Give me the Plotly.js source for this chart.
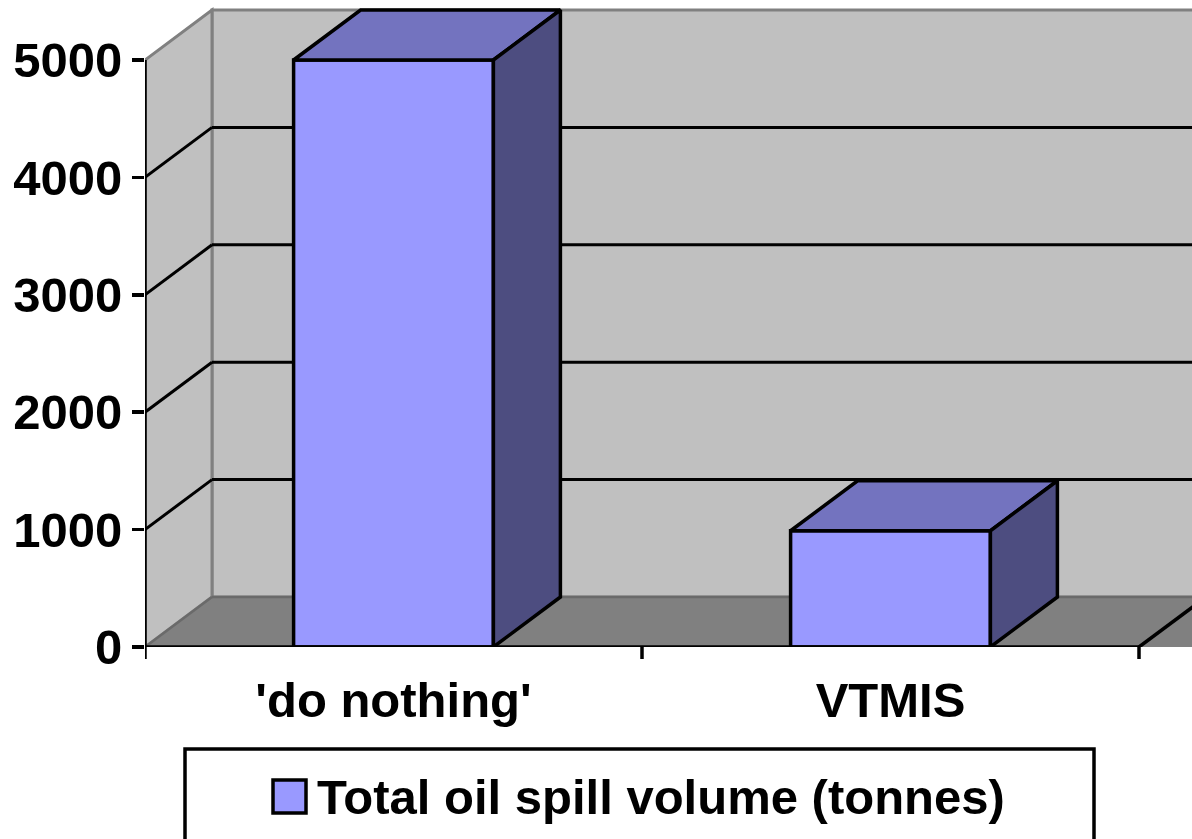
<!DOCTYPE html>
<html>
<head>
<meta charset="utf-8">
<script src="https://cdn.plot.ly/plotly-3.0.1.min.js"></script>
<style>
html,body{margin:0;padding:0;background:#fff;}
#chart{width:1192px;height:839px;}
</style>
</head>
<body>
<div id="chart"></div>
<script>
// ---- data ----
const categories = ["'do nothing'", "VTMIS"];
const spillVolume = [5000, 990];
const seriesName = "Total oil spill volume (tonnes)";
const yTickVals = [0, 1000, 2000, 3000, 4000, 5000];
const yTickText = ["0", "1000", "2000", "3000", "4000", "5000"];

// ---- layout geometry (pixels) ----
const W = 1192, H = 839;
const mL = 145, mR = 0, mT = 0, mB = 192;
const plotW = W - mL - mR, plotH = H - mT - mB;
const frontWidthPx = 994;
const pxPerX = frontWidthPx / categories.length;
const yMax = 5000;
const yMaxPx = 587;
const pxPerY = yMaxPx / yMax;
const depthPx = {dx: 67, dy: 50};
const dxU = depthPx.dx / pxPerX;
const dyU = depthPx.dy / pxPerY;
const xLo = -0.5, xHi = categories.length - 0.5;
const xRange = [xLo, xLo + plotW / pxPerX];
const yRange = [0, plotH / pxPerY];
const barW = 0.402;

const FONT = "Arial, 'Liberation Sans', sans-serif";
const BLACK = "#000000";
const EDGE = 3.5, GRID = 3;

const xs = categories.map((c, i) => i);

// ---- traces ----
const traces = [];
traces.push({
  type: "bar", x: xs, y: spillVolume, width: barW, name: seriesName,
  marker: {color: "#9999ff", line: {color: BLACK, width: EDGE}},
  showlegend: false, hoverinfo: "y"
});
xs.forEach((xc, i) => {
  const v = spillVolume[i];
  const l = xc - barW / 2, r = xc + barW / 2;
  traces.push({
    type: "scatter", mode: "lines", fill: "toself", fillcolor: "#7373bf",
    x: [l, r, r + dxU, l + dxU, l], y: [v, v, v + dyU, v + dyU, v],
    line: {color: BLACK, width: EDGE}, showlegend: false, hoverinfo: "skip"
  });
  traces.push({
    type: "scatter", mode: "lines", fill: "toself", fillcolor: "#4d4d80",
    x: [r, r + dxU, r + dxU, r, r], y: [0, dyU, v + dyU, v, 0],
    line: {color: BLACK, width: EDGE}, showlegend: false, hoverinfo: "skip"
  });
});

// ---- walls, floor, gridlines ----
const shapes = [];
const P = (pts) => "M" + pts.map(p => p[0] + "," + p[1]).join("L") + "Z";
shapes.push({type: "rect", xref: "x", yref: "y", layer: "below",
  x0: xLo + dxU, x1: xHi + 1, y0: dyU, y1: yMax + dyU,
  fillcolor: "#c0c0c0", line: {color: "#808080", width: 3}});
shapes.push({type: "path", xref: "x", yref: "y", layer: "below",
  path: P([[xLo, 0], [xLo + dxU, dyU], [xLo + dxU, yMax + dyU], [xLo, yMax]]),
  fillcolor: "#c0c0c0", line: {color: "#808080", width: 3}});
shapes.push({type: "path", xref: "x", yref: "y", layer: "below",
  path: P([[xLo, 0], [xHi + 1, 0], [xHi + 1 + dxU, dyU], [xLo + dxU, dyU]]),
  fillcolor: "#808080", line: {width: 0}});
shapes.push({type: "line", xref: "x", yref: "y", layer: "below",
  x0: xLo + dxU, x1: xHi + 1, y0: dyU, y1: dyU, line: {color: "#6a6a6a", width: 2.5}});
shapes.push({type: "line", xref: "x", yref: "y", layer: "below",
  x0: xLo, x1: xLo + dxU, y0: 0, y1: dyU, line: {color: "#6a6a6a", width: 2.5}});
shapes.push({type: "line", xref: "x", yref: "y", layer: "below",
  x0: xHi, x1: xHi + dxU, y0: 0, y1: dyU, line: {color: BLACK, width: EDGE}});
yTickVals.filter(v => v > 0 && v < yMax).forEach(v => {
  shapes.push({type: "line", xref: "x", yref: "y", layer: "below",
    x0: xLo + dxU, x1: xHi + 1, y0: v + dyU, y1: v + dyU, line: {color: BLACK, width: GRID}});
  shapes.push({type: "line", xref: "x", yref: "y", layer: "below",
    x0: xLo, x1: xLo + dxU, y0: v, y1: v + dyU, line: {color: BLACK, width: GRID}});
});
// axis lines
shapes.push({type: "line", xref: "x", yref: "y", layer: "above",
  x0: xLo, x1: xLo, y0: 0, y1: yMax, line: {color: BLACK, width: EDGE}});
shapes.push({type: "line", xref: "x", yref: "y", layer: "above",
  x0: xLo, x1: xHi, y0: 0, y1: 0, line: {color: BLACK, width: EDGE}});
// x-axis boundary ticks
for (let b = xLo; b <= xHi + 1e-9; b += 1) {
  shapes.push({type: "line", xref: "x", yref: "paper", layer: "above",
    x0: b, x1: b, y0: 0, y1: -12 / plotH, line: {color: BLACK, width: EDGE}});
}
// legend box & key
const pxX = (px) => (px - mL) / plotW;
const pxY = (py) => (plotH + mT - py) / plotH;
shapes.push({type: "rect", xref: "paper", yref: "paper", layer: "above",
  x0: pxX(185), x1: pxX(1094), y0: pxY(749), y1: pxY(860),
  fillcolor: "#ffffff", line: {color: BLACK, width: EDGE}});
shapes.push({type: "rect", xref: "paper", yref: "paper", layer: "above",
  x0: pxX(273), x1: pxX(306), y0: pxY(780), y1: pxY(813),
  fillcolor: "#9999ff", line: {color: BLACK, width: EDGE}});

const annotations = [{
  xref: "paper", yref: "paper", x: pxX(315), y: pxY(797),
  xanchor: "left", yanchor: "middle", showarrow: false,
  text: seriesName,
  font: {family: FONT, size: 49, color: BLACK, weight: 700}
}];

const layout = {
  width: W, height: H,
  margin: {l: mL, r: mR, t: mT, b: mB, pad: 0},
  paper_bgcolor: "#ffffff", plot_bgcolor: "rgba(0,0,0,0)",
  showlegend: false,
  xaxis: {
    type: "linear", range: xRange, tickvals: xs, ticktext: categories,
    ticks: "", showgrid: false, zeroline: false, showline: false,
    ticklabelstandoff: 20,
    tickfont: {family: FONT, size: 49, color: BLACK, weight: 700},
    fixedrange: true
  },
  yaxis: {
    type: "linear", range: yRange, tickvals: yTickVals, ticktext: yTickText,
    ticks: "outside", ticklen: 12, tickwidth: 3.5, tickcolor: BLACK,
    showgrid: false, zeroline: false, showline: false,
    tickfont: {family: FONT, size: 49, color: BLACK, weight: 700},
    fixedrange: true
  },
  shapes: shapes,
  annotations: annotations
};

Plotly.newPlot("chart", traces, layout, {displayModeBar: false, staticPlot: true});
</script>
</body>
</html>
